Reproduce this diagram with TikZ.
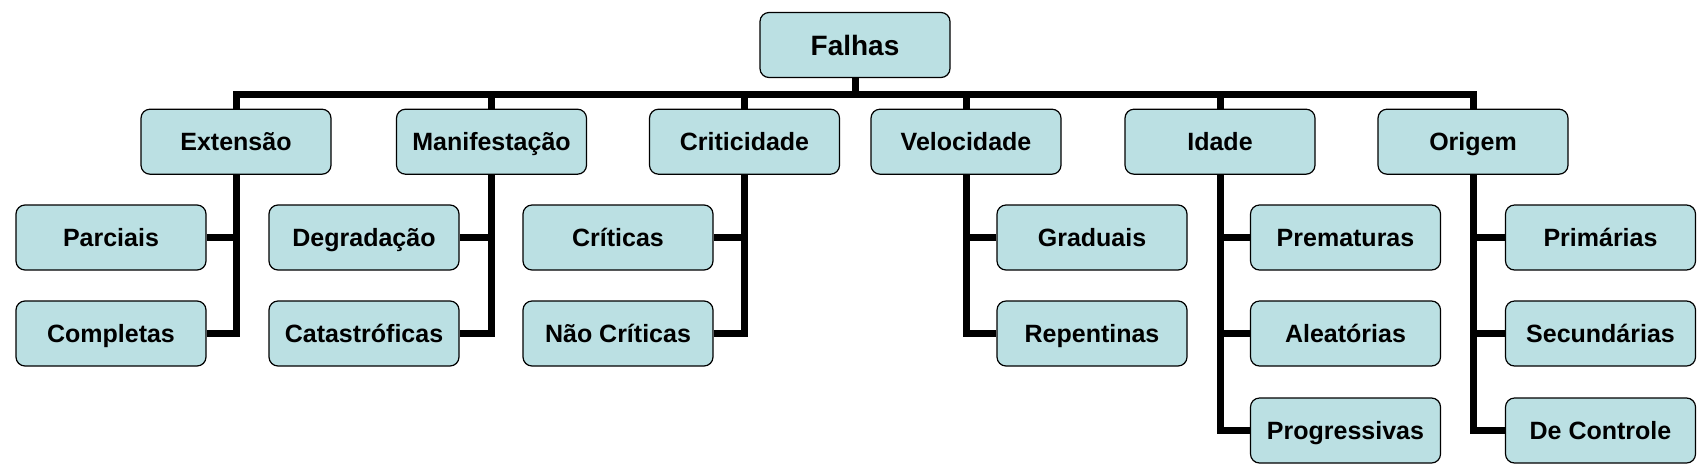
\documentclass[tikz,border=0pt]{standalone}
\usepackage{fontspec}
\setmainfont{Liberation Sans}
\usepackage{tikz}

\definecolor{caixafundo}{RGB}{187,224,227}

\tikzset{
  caixa/.style={draw, line width=1.2pt, fill=caixafundo, rounded corners=9pt,
    minimum width=190pt, minimum height=65pt, inner sep=0pt,
    text height=18pt, text depth=0pt,
    font=\fontsize{25}{30}\selectfont\bfseries},
  ligacao/.style={line width=7pt}
}

\begin{document}
\begin{tikzpicture}[x=1pt, y=-1pt]
      \useasboundingbox (0,0) rectangle (1708,475);
      \node [caixa, text height=20pt, font=\fontsize{28}{32}\selectfont\bfseries] (falhas) at (855,45) {Falhas};
      \coordinate (barra) at (855,94.7);
      % primeiro nivel
      \node [caixa] (ext) at (236,141.7) {Extensão};
      \node [caixa] (man) at (491.5,141.7) {Manifestação};
      \node [caixa] (cri) at (744.5,141.7) {Criticidade};
      \node [caixa] (vel) at (966,141.7) {Velocidade};
      \node [caixa] (ida) at (1220,141.7) {Idade};
      \node [caixa] (ori) at (1473,141.7) {Origem};
      % segundo nivel
      \node [caixa] (parc) at (111,237.5) {Parciais};
      \node [caixa] (comp) at (111,333.5) {Completas};
      \node [caixa] (degr) at (364,237.5) {Degradação};
      \node [caixa] (cata) at (364,333.5) {Catastróficas};
      \node [caixa] (crit) at (618,237.5) {Críticas};
      \node [caixa] (ncrit) at (618,333.5) {Não Críticas};
      \node [caixa] (grad) at (1092,237.5) {Graduais};
      \node [caixa] (repe) at (1092,333.5) {Repentinas};
      \node [caixa] (prem) at (1345.5,237.5) {Prematuras};
      \node [caixa] (alea) at (1345.5,333.5) {Aleatórias};
      \node [caixa] (prog) at (1345.5,430.5) {Progressivas};
      \node [caixa] (prim) at (1600.5,237.5) {Primárias};
      \node [caixa] (secu) at (1600.5,333.5) {Secundárias};
      \node [caixa] (cont) at (1600.5,430.5) {De Controle};
      % ligacoes
      \draw [ligacao] (falhas.south) -- (falhas.south |- barra);
      \foreach \n in {ext, man, cri, vel, ida, ori}
        \draw [ligacao] (\n.north) |- (falhas.south |- barra);
      \foreach \pai/\filho in {ext/parc, ext/comp, man/degr, man/cata, cri/crit, cri/ncrit}
        \draw [ligacao] (\pai.south) |- (\filho.east);
      \foreach \pai/\filho in {vel/grad, vel/repe, ida/prem, ida/alea, ida/prog, ori/prim, ori/secu, ori/cont}
        \draw [ligacao] (\pai.south) |- (\filho.west);
    \end{tikzpicture}
\end{document}
